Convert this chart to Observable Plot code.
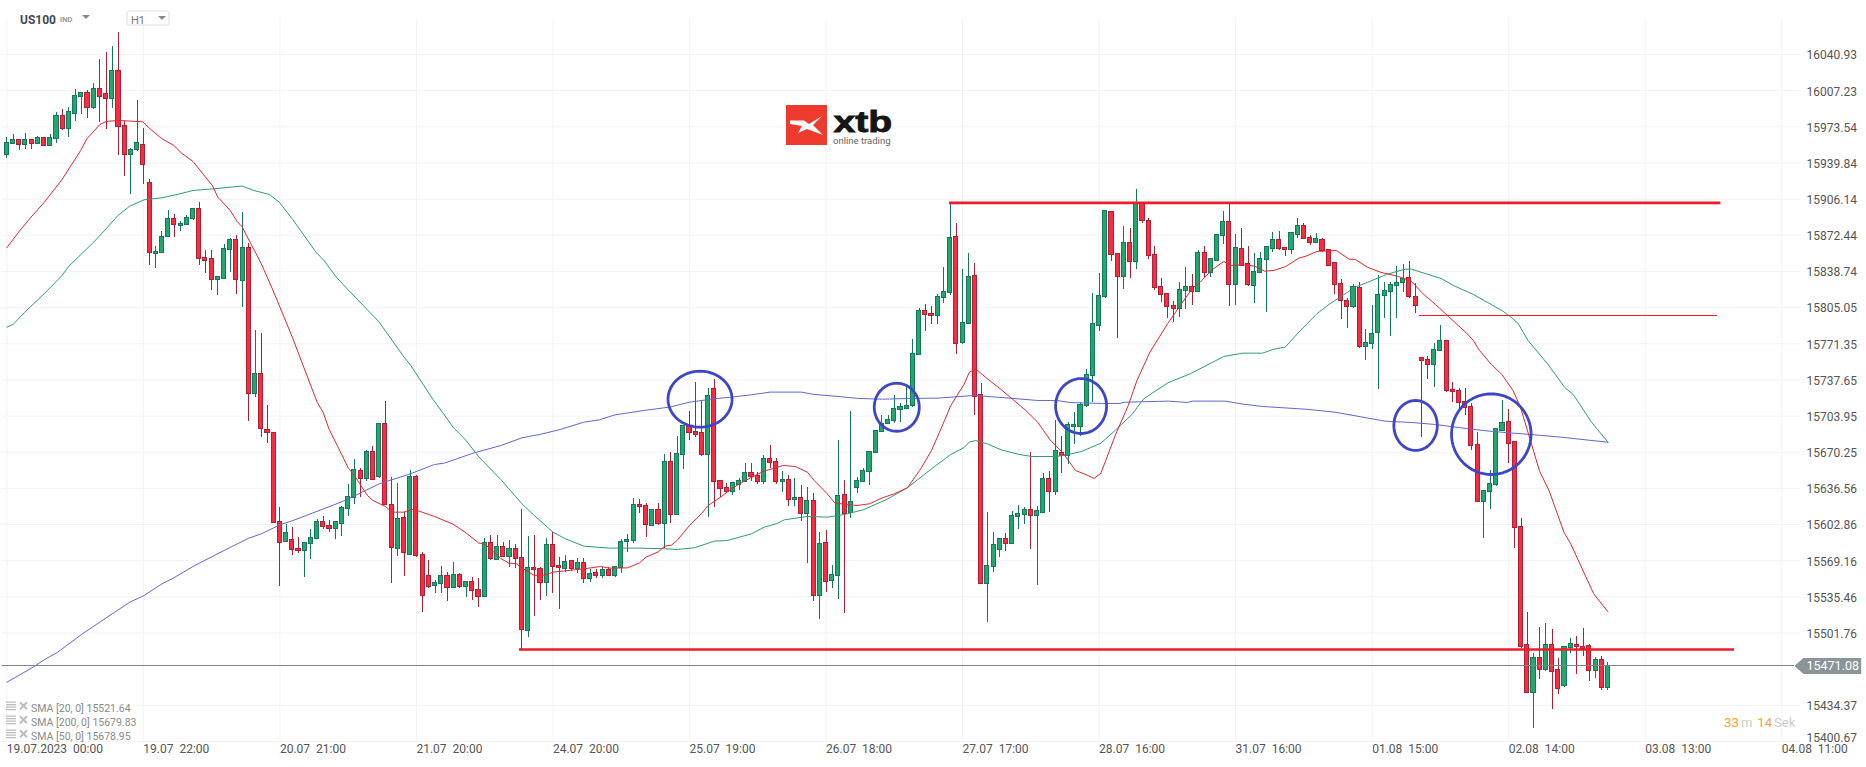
<!DOCTYPE html>
<html>
<head>
<meta charset="utf-8">
<script src="https://cdn.jsdelivr.net/npm/d3@7"></script>
<script src="https://cdn.jsdelivr.net/npm/@observablehq/plot@0.6"></script>
<style>
html,body{margin:0;padding:0;background:#fff}
svg{display:block}
svg text{white-space:pre}
</style>
</head>
<body>
<div id="chart"></div>
<script>
const open = [
15947.1,15957.7,15961.4,15956.8,15961.4,15957.7,15963.3,15955.5,15962.1,15983.8,
15971.7,15985.7,16001.5,16005.2,15991,16009,16004.3,15999.3,16025.7,15974.5,
15947.5,15952.1,15956.8,15921.4,15854.9,15856.1,15871,15887.8,15881.3,15882.2,
15887.8,15897.1,15851.5,15850.5,15831,15831.9,15858.9,15868.2,15830,15860.8,
15724.7,15743.4,15691.1,15688.3,15605.4,15586.7,15588.6,15580.2,15578,15584.9,
15589.5,15605.4,15601.6,15598.9,15603.5,15617.5,15627.8,15652.9,15645.5,15670.6,
15647,15696.7,15621.2,15580.2,15609.1,15574.6,15647.3,15574.6,15554.7,15545.7,
15547.6,15554.7,15543.9,15556,15544.5,15549.5,15542,15535.5,15585.8,15570,
15582.1,15572.8,15580.3,15571.9,15503.8,15562.5,15561.6,15548.6,15584,15564.4,
15561.3,15569.1,15561.3,15567.2,15552.3,15557.9,15555.1,15560.7,15555.1,15562.5,
15586.8,15587.7,15621.3,15620.3,15601.7,15616.6,15603.6,15661.3,15611.9,15667.9,
15694.9,15689.3,15688.4,15667.9,15729.4,15643.6,15637.1,15633.4,15639.9,15642.7,
15651.1,15648.3,15642.7,15664.1,15661.3,15642.7,15644.6,15625.9,15627.8,15612.9,
15625,15536.5,15585.9,15550.4,15555.1,15630.6,15613.8,15637.1,15642.7,15652,
15669.7,15689,15696.7,15699.5,15709.8,15710.7,15713.5,15761.1,15802.1,15799.3,
15797.4,15814.2,15818.5,15871,15772.2,15790,15834.7,15723.8,15547.6,15563.5,
15579.3,15589.6,15584.9,15610.1,15612,15616.6,15611,15613.8,15645.5,15633.4,
15669.7,15667.2,15694,15694,15713.5,15741.5,15788.1,15815.1,15894.3,15855.2,
15833.8,15865.4,15847.7,15902.7,15885.9,15854.3,15824.4,15817.9,15806.7,15803.9,
15820.7,15824.4,15819.8,15856.1,15837.5,15848.7,15872,15885,15826.3,15859.9,
15845.9,15825.4,15837.5,15849.6,15859.9,15868.2,15860.8,15858.9,15872.9,15881.3,
15870.1,15865.4,15868.2,15858.9,15846.8,15827.2,15811.4,15805.8,15823.5,15768.5,
15771.3,15781.6,15816,15819.8,15825.4,15828.2,15832.8,15815.1,15758.3,15756.4,
15751.7,15764.8,15774.1,15728.4,15727.5,15717.3,15712.6,15677.2,15623.7,15633.4,
15639.9,15689.9,15698.6,15680,15600.7,15490.8,15446,15478.7,15467.5,15490.8,
15467.5,15452.2,15488,15490.8,15488.9,15489.8,15466.5,15476.8,15450.7];
const close = [
15958.6,15961.4,15956.5,15961.4,15957.7,15963.3,15955.5,15963.3,15983.8,15971.4,
15987.5,16002.4,16005.2,15991.3,16009,16001.5,15999.3,16025.7,15973.2,15947.5,
15952.1,15958.6,15938.1,15856.1,15857.1,15871,15887.8,15882.2,15883.2,15888.7,
15897.1,15850.5,15848.7,15831,15833.8,15859.9,15868.2,15831,15860.8,15724.7,
15743.4,15692.1,15688.3,15604.4,15585.8,15595.1,15579.3,15578,15585.8,15590.5,
15605.4,15600.4,15598.9,15605.4,15618.4,15628.7,15653.8,15645.5,15670.6,15644.5,
15696.7,15621.2,15581.1,15608.2,15576.5,15647.3,15573.7,15536.4,15544.8,15548.5,
15554.7,15543.9,15556,15544.8,15549.5,15541.1,15535.2,15585.8,15570.6,15582.1,
15572.8,15580.3,15571,15504.8,15562.5,15560.7,15548.6,15584,15563.5,15562.5,
15568.1,15561.3,15567.2,15552.3,15556.9,15555.1,15560.7,15555.1,15563.5,15586.8,
15588.6,15621.3,15619.4,15602.6,15616.6,15603.6,15661.3,15611.9,15668.8,15694.9,
15688.4,15686.5,15667.6,15722.9,15642.7,15636.2,15633.4,15641.8,15643.6,15651.1,
15647.4,15642.7,15664.1,15660.4,15642.7,15644.6,15625.9,15627.8,15612.9,15625,
15536.5,15584.9,15549.5,15556,15629.7,15612.9,15624,15643.6,15653,15670.7,
15690.2,15696.7,15700.5,15710.7,15712.6,15713.5,15762,15802.1,15798.4,15797.4,
15815.1,15819.8,15870.1,15771.3,15790.9,15833.8,15721.9,15547.6,15564.4,15584,
15589.6,15584.9,15611,15612.9,15616.6,15611,15615.7,15645.5,15633.4,15671.6,
15667.2,15695.8,15695.8,15714.5,15742.4,15790,15816,15895.3,15854.3,15833.8,
15865.4,15847.7,15902.7,15885.9,15853.3,15823.5,15817,15805.8,15803.9,15821.6,
15824.4,15819.8,15856.1,15837.5,15850.5,15872.9,15885,15826.3,15860.8,15844,
15826.3,15838.4,15850.5,15861.7,15868.2,15859.9,15858.9,15874.8,15881.3,15869.2,
15865.4,15869.2,15858,15844,15826.3,15811.4,15805.8,15824.4,15768.5,15772.2,
15780.6,15817,15820.7,15826.3,15828.2,15831.9,15815.1,15806.7,15755.5,15751.7,
15765.7,15774.1,15727.5,15726.6,15716.3,15711.7,15676.3,15624,15634.3,15640.8,
15692.1,15697.7,15678.1,15599.8,15488.9,15446,15478.7,15467.5,15490.8,15465.6,
15449.8,15488.9,15491.7,15488.9,15487,15466.5,15476.8,15450.7,15471.2];
const high = [
15963.3,15966.1,15961.4,15967,15961.4,15964.5,15963.3,15966.1,15986.6,15989.4,
15991.3,16008,16005.2,16007.1,16013.6,16036,16042.5,16048.4,16061.2,15978.2,
15953,15997.8,15971.7,15924.2,15861.7,15875.7,15895.3,15891.5,15885,15890.6,
15897.1,15902.7,15858,15858,15833.8,15863.6,15869.2,15872,15893.4,15864.5,
15783.4,15780.6,15713.5,15688.3,15618.4,15602.6,15599.8,15590.5,15585.8,15597.9,
15607.2,15610,15606.3,15605.4,15619.4,15639.9,15663.2,15654.8,15671.5,15675.3,
15696.7,15717.2,15646.4,15640.8,15613.8,15652.9,15648.3,15576.5,15569,15550.4,
15563.4,15557.8,15567.2,15556.9,15549.5,15553.8,15552.3,15589.5,15592.3,15592.3,
15585.9,15587.7,15584,15616.6,15591.4,15592.4,15562.5,15589.6,15595.2,15571.9,
15573.7,15569.1,15570.9,15570.9,15560.7,15560.7,15562.5,15562.5,15563.5,15588.6,
15593.3,15626.9,15625.9,15622.2,15616.6,15622.2,15668.2,15669.7,15685,15694.9,
15707.9,15735,15718.2,15729.4,15737.8,15643.6,15640.8,15641.8,15645.5,15659.5,
15659.5,15651.1,15666.9,15676.6,15664.1,15652,15648.3,15645.5,15639,15637.1,
15631.5,15595.2,15597,15564.4,15681.2,15643.6,15707.9,15646.4,15654.8,15670.7,
15690.2,15704.2,15704.2,15722.9,15715.4,15730.3,15775,15803.9,15807.7,15805.8,
15817,15842.1,15901.8,15883.2,15840.3,15855.2,15845.9,15734,15613.8,15595.2,
15589.6,15594.2,15614.7,15620.3,15618.5,15669.7,15619.4,15650.2,15652,15699.5,
15684.6,15697.7,15707,15716.9,15747.1,15817.9,15836.6,15895.3,15894.3,15855.2,
15880.4,15878.5,15914.8,15902.7,15887.8,15861.7,15831.9,15817.9,15810.5,15828.2,
15842.1,15835.6,15858,15861.7,15850.5,15872.9,15894.3,15901.8,15872.9,15878.5,
15861.7,15855.2,15856.1,15861.7,15874.8,15875.7,15860.8,15874.8,15887.8,15883.2,
15872,15873.8,15869.2,15858.9,15846.8,15831,15813.3,15826.3,15828.2,15784.4,
15806.7,15834.7,15828.2,15828.2,15843.1,15845,15847.7,15827.2,15758.3,15759.2,
15771.3,15788.1,15774.1,15735,15729.4,15729.4,15715.4,15688.4,15634.3,15653.2,
15692.1,15718.5,15709.8,15680,15608.2,15520.6,15482.4,15506.6,15510.3,15504.8,
15477.7,15488.9,15496.4,15498.2,15505.7,15490.8,15478.7,15479.6,15474];
const low = [
15944.3,15957.7,15951.5,15952.7,15952.7,15957.7,15955.5,15955.5,15958,15970.4,
15963.9,15978.8,15985,15981.6,15990,15977.9,15971.4,15991,15947.1,15927.6,
15910.8,15950.9,15920.1,15844.6,15841.8,15856.1,15871,15870.7,15876.3,15882.2,
15886,15844.6,15837.2,15821.3,15816.7,15831.9,15837.5,15817.6,15804.9,15699.2,
15721.5,15684.3,15678.7,15604.4,15545.4,15586.7,15574.3,15576.2,15553.8,15570.6,
15589.5,15597.9,15595.8,15589.2,15592,15610.7,15621.8,15628.4,15643.3,15644.5,
15646.1,15621.2,15548.2,15573.4,15554.7,15573.7,15572.4,15521.2,15542.9,15538.9,
15538.9,15531.4,15542.9,15542.9,15535.2,15532.4,15525.8,15535.5,15569.7,15570,
15572.8,15563.2,15561.6,15486.4,15497.3,15517.5,15532.1,15536.1,15538.3,15524,
15558.5,15559.4,15557.6,15548.3,15549.2,15552.3,15552.3,15555.1,15553.9,15557.6,
15577.1,15584.9,15613.5,15591.1,15601.7,15601.7,15580.3,15603.6,15611,15653.9,
15681.5,15683.7,15666.6,15609.8,15619.1,15627.8,15631.5,15629.7,15634.3,15642.7,
15642.7,15639.9,15639.9,15654.8,15639.9,15632.4,15619.4,15619.4,15605.4,15566.3,
15531.5,15514.1,15539.9,15543,15533.3,15520.3,15608.2,15631.5,15642.7,15639,
15669.7,15689,15696.7,15696.7,15697.7,15709.8,15711.7,15761.1,15783.1,15789.6,
15789.6,15808.6,15816.1,15761.7,15770.4,15789,15704.8,15547.6,15511.9,15558.5,
15572.5,15578.1,15584,15598,15602.6,15579.3,15546.4,15613.8,15614.1,15629.7,
15650.2,15658.5,15677.2,15684.6,15711.7,15716.3,15782.5,15813.3,15847.7,15776,
15821.6,15831.9,15840.3,15883.2,15849.6,15820.7,15809.5,15795.2,15790.9,15796.2,
15803,15806.7,15819.8,15832.8,15832.8,15848.7,15863.6,15805.8,15806.7,15844,
15824.4,15809.2,15837.5,15800.2,15856.1,15858,15852.4,15854.3,15869.2,15869.2,
15862.7,15865.4,15856.1,15843.1,15817,15793.7,15785.3,15803.9,15766.7,15755.5,
15765.7,15728.4,15794.6,15777.8,15794.6,15818.8,15813.3,15799.3,15683.7,15737.8,
15730.3,15764.8,15725.7,15716.3,15710.7,15704.2,15671.6,15624,15590.2,15617.2,
15638.6,15689.9,15659.8,15580.9,15487,15446,15413.1,15458.8,15465.6,15430.8,
15444.8,15450.7,15483,15463.4,15480.2,15456.9,15459.7,15448.5,15447.9];

const sma20Bars = [0,1.9,3.9,6,8.9,11.9,12.9,15,16,17.9,21.9,22.9,25,26.9,28.1,30,33.1,34,36,37.1,37.9,41,42.9,46,50,51,51.9,53.9,55,56,58.1,59,61,62.1,64,65.5,68.9,71.9,74,76,77.1,79.6,80.9,82.1,83,85,86.6,88,93,95.7,97.1,100,101.9,103,105,106,107.1,108,110,112,113,115,117,119,122,125.1,127,129,130.1,132.2,133.4,135.1,137,139,141.1,143,145.1,147.1,149,151.1,152.1,154.2,155.1,156.1,158,160.2,162.1,164.2,166.1,168.1,170.2,172.2,174.2,175.2,176.3,178.6,180.7,182.1,184.2,187.1,189.2,191.1,192.3,194.2,196.1,197.3,199.2,201.1,202.7,204.2,206.1,208.2,209.2,211.1,214.2,216.3,217.3,219.2,221.3,224.2,226.3,228.2,230.2,232.3,235.2,236.3,237.3,239.2,240.9,242.7,243.9,245.5,247,248.5,250.9,252,253.6,255.7,258];
const sma20Values = [15860.8,15875.4,15889.4,15903,15924.5,15951.5,15962.4,15975.7,15978.5,15979.5,15978.2,15972.6,15962.4,15956.2,15949.3,15941.2,15918.9,15908,15895.6,15885.3,15880.4,15845.9,15821,15777.5,15716.9,15707,15692.1,15668.8,15655.7,15648.6,15629.9,15625.3,15619.7,15614.4,15614.4,15617.2,15610.4,15603.2,15595.1,15585.8,15584.3,15571.2,15566.9,15566.3,15562.5,15555.4,15555.7,15558.5,15561.6,15563.8,15562.2,15562.5,15566.9,15572.5,15577.5,15582.7,15583.7,15588,15602,15613.5,15620.6,15628.4,15637.1,15643.9,15652.6,15657.9,15657,15651.7,15643.9,15631.5,15623.1,15621.6,15620.6,15622.2,15627.8,15631.5,15637.1,15653.3,15671.9,15699.9,15713.8,15733.1,15744.9,15748,15738.7,15728.8,15719.4,15709.2,15698.3,15681.8,15669.4,15653.3,15648.6,15645.8,15650.8,15685.9,15713.8,15737.1,15763.6,15790.6,15808,15823.5,15828.8,15840.3,15848,15844.3,15844.9,15843.7,15839,15839.7,15843.4,15851.2,15852.7,15857.4,15858.3,15850.2,15849.9,15842.8,15838.1,15834.1,15829.7,15817.9,15808,15796.8,15781.3,15774.4,15765.1,15752.1,15742.7,15727.8,15712.3,15681.2,15652.3,15634.6,15595.8,15584.9,15564.7,15538.3,15521.5];

const sma50Bars = [0,1,2.9,6,8.9,10,14,16,17.9,19.8,22.1,25,27.9,30,33.4,36,37.9,39.8,42.3,43.9,46.1,49.8,51.1,53.1,55,56.9,60,64,65.1,68.7,70,71.9,74,76,79.6,83,85,88,90,93,97.1,101.9,106,108,110.8,114,116.1,120,122,124,125.3,129,132.2,135,138,142,145.1,149,152.1,154.2,155.1,156.1,158,160.2,163.1,165.2,169.2,171.1,173.2,176.3,178.7,181.3,183.2,187.1,190.7,196.1,199.2,202.3,204.2,206,208.2,211.1,213.2,217.3,219.2,222.3,225.3,226.3,231.1,233.2,236.3,240.9,242.3,243.5,245.1,248.3,251,252.4,255.3,258];
const sma50Values = [15786.8,15789.3,15800.8,15817.9,15835,15843.7,15866.1,15878.5,15890.9,15899.6,15905.5,15907.4,15911.1,15914.2,15915.8,15917.3,15918.3,15914.2,15910.5,15903.3,15886.9,15856.8,15849,15833.4,15821.6,15810.2,15791.5,15758.9,15751.1,15719.1,15709.1,15693.6,15681.2,15666.3,15644.8,15622.2,15611.3,15595.8,15589.6,15582.7,15580.9,15580.9,15580.3,15579.6,15581.2,15587.4,15588,15594.2,15600.4,15603.6,15607.3,15610.4,15609.8,15612.3,15616.6,15626.9,15637.1,15654.8,15668.2,15674.4,15679.7,15681.2,15678.1,15672.5,15668.2,15666.3,15666.3,15668.2,15671,15678.7,15691.2,15705.5,15720.1,15735,15743.4,15759.5,15762.6,15762.6,15766.3,15768.2,15782.2,15799.3,15808.6,15824.1,15828.5,15835.9,15840.9,15840.9,15832.2,15825.4,15817.3,15802.4,15796.5,15790.5,15774.5,15752.4,15730.9,15724,15698.7,15679.6];

const sma200Bars = [0,4.4,6,8.2,10,12.4,16,19.8,22.1,25,26.9,30,35,39,41,44,46.1,52.7,54.7,57.6,60,65,68.9,70.5,75.3,79.6,83,86.1,89,93,95.5,98,102.7,106.8,110,114,116.7,120,123,128,130.1,133.4,137.2,141.1,145.7,150.1,155.9,160.2,166.1,169.2,171.3,176.4,179.2,180.2,187.2,190.2,191.1,196.3,199.2,202.3,209.2,214,222.1,226.3,230.2,235.5,239.4,245.5,250.4,258];
const sma200Values = [15455.9,15470.5,15476.8,15483.9,15491.7,15501.9,15515.9,15530.5,15536.7,15547.6,15553.2,15563.8,15578.7,15590.2,15594.2,15602.6,15606.6,15621.2,15625.9,15634,15640.8,15650.1,15658.8,15660.1,15669.7,15676.5,15683.7,15687.1,15691.2,15698.3,15700.5,15705.1,15709.2,15712.3,15716.9,15720.1,15721.6,15723.8,15726.3,15726.3,15724.1,15722.5,15720.4,15719.7,15720.4,15720.7,15723.2,15721.3,15718.5,15718.5,15716.6,15715.7,15715.7,15716.9,15717.9,15716.6,15717.9,15717.9,15715.1,15712.9,15710.4,15707.6,15699.2,15698,15696.1,15692.1,15689.6,15686.8,15684.3,15679.6];

const priceTicks = [16040.93,16007.23,15973.54,15939.84,15906.14,15872.44,15838.74,15805.05,15771.35,15737.65,15703.95,15670.25,15636.56,15602.86,15569.16,15535.46,15501.76,15434.37];
const lastPriceTick = 15400.67;
const timeTickBars = [0,22,44,66,88,110,132,154,176,198,220,242,264,286];
const timeTickLabels = ["19.07.2023  00:00","19.07  22:00","20.07  21:00","21.07  20:00","24.07  20:00","25.07  19:00","26.07  18:00","27.07  17:00","28.07  16:00","31.07  16:00","01.08  15:00","02.08  14:00","03.08  13:00","04.08  11:00"];

const lastPrice = 15471.08;
const tagBars = [288.05,289.5,298.8,298.8,289.5];
const tagPrices = [lastPrice,lastPrice+7.4,lastPrice+7.4,lastPrice-7.4,lastPrice-7.4];

const levelPrices = [15902.7,15486.4,15797.4];
const levelFrom = [151.9,82.6,227.6];
const levelTo = [276.2,278.4,275.7];
const levelWidths = [2.7,2.7,1];

const circleBars = [111.7,143.4,173.1,227,239.2];
const circlePrices = [15719.7,15712.2,15713.3,15695.2,15687.1];
const circleBarRadii = [5.16,3.63,4.11,3.5,6.41];
const circlePriceRadii = [26.1,22.4,25.6,23.3,37.6];

const legendRows = ["SMA [20, 0] 15521.64","SMA [200, 0] 15679.83","SMA [50, 0] 15678.95"];

const bars = d3.range(open.length);
const rising = bars.filter(i => close[i] >= open[i]);
const falling = bars.filter(i => close[i] < open[i]);

const UP = "#22a76e", UP_EDGE = "#14795a", DOWN = "#f92c42", DOWN_EDGE = "#b21f35";
const GRID = "#f3f3f3";

function candleMarks(set, fill, edge) {
  return [
    Plot.ruleX(set, {x: i => i, y1: i => low[i], y2: i => high[i], stroke: edge, strokeWidth: 1, shapeRendering: "crispEdges"}),
    Plot.rect(set, {x1: i => i - 0.33, x2: i => i + 0.33, y1: i => open[i], y2: i => close[i], fill, stroke: edge, strokeWidth: 1, shapeRendering: "crispEdges"})
  ];
}
function smaMark(xs, ys, stroke) {
  return Plot.line(xs.map((x, k) => ({x, y: ys[k]})), {x: "x", y: "y", stroke, strokeWidth: 1});
}
function circleMark(k) {
  const pts = d3.range(64).map(a => {
    const t = a / 64 * 2 * Math.PI;
    return {x: circleBars[k] + circleBarRadii[k] * Math.cos(t), y: circlePrices[k] + circlePriceRadii[k] * Math.sin(t)};
  });
  return Plot.line(pts, {x: "x", y: "y", stroke: "#3d46c9", strokeWidth: 2.8, curve: "linear-closed"});
}
function chrome() {
  const g = d3.create("svg:g").attr("font-family", "Roboto, sans-serif").attr("text-anchor", "start");
  const t = (x, y, s, size, fill, weight) => g.append("text").attr("x", x).attr("y", y).attr("font-size", size).attr("fill", fill).attr("font-weight", weight || 400).attr("text-anchor", "start").text(s);
  const tri = (x, y, w, h, fill) => g.append("path").attr("d", `M${x},${y}h${w}l${-w/2},${h}z`).attr("fill", fill);
  // header
  t(20, 23.5, "US100", 12, "#3f4b54", 700);
  t(60, 22, "IND", 7.5, "#9a9a9a", 700);
  tri(82, 15, 8, 4, "#8a8a8a");
  g.append("rect").attr("x", 127).attr("y", 11).attr("width", 42).attr("height", 14).attr("rx", 2).attr("fill", "#fff").attr("stroke", "#dddddd");
  t(131, 24, "H1", 11, "#6f7a80");
  tri(158, 16, 8, 4, "#8a8a8a");
  // logo
  g.append("rect").attr("x", 786).attr("y", 105).attr("width", 41).attr("height", 40).attr("fill", "#ef3b2d");
  g.append("path").attr("d", "M790,120.500L804,120.500L809,124L822,116L813,125L823,135L807,129L798,133L802,126L790,124Z").attr("fill", "#fff");
  t(0, 0, "xtb", 29, "#151515", 700).attr("font-family", "Liberation Sans, sans-serif").attr("stroke", "#151515").attr("stroke-width", 0.8).attr("transform", "translate(833.5,131.7) scale(1.35,1)");
  t(833, 144, "online trading", 9.5, "#666");
  // indicator legend
  legendRows.forEach((s, k) => {
    const y = 707.7 + k * 14;
    g.append("path").attr("d", `M6,${y-5.5}h10M6,${y-3}h10M6,${y-0.5}h10M6,${y+2}h10`).attr("stroke", "#bdbdbd").attr("stroke-width", 1.2).attr("fill", "none");
    g.append("path").attr("d", `M20,${y-5.5}l7,7M27,${y-5.5}l-7,7`).attr("stroke", "#bdbdbd").attr("stroke-width", 2).attr("fill", "none");
    t(31, y + 3.8, s, 10.5, "#8a8a8a");
  });
  // countdown
  t(1724, 727, "33", 13.2, "#ffa033");
  t(1741, 727, "m", 13.2, "#cccccc");
  t(1757.300, 727, "14", 13.2, "#ffa033");
  t(1774, 727, "Sek", 13.2, "#cccccc");
  return g.node();
}

const chart = Plot.plot({
  width: 1866,
  height: 767,
  marginTop: 0,
  marginLeft: 0,
  marginRight: 60,
  marginBottom: 26,
  style: {fontFamily: "Roboto, sans-serif", fontSize: "12px", background: "#fff", overflow: "visible"},
  x: {type: "linear", domain: [-1.02, 289.99], label: null},
  y: {domain: [15400.67, 16091.26], label: null},
  marks: [
    Plot.ruleY([...priceTicks, lastPriceTick], {x1: -0.7, x2: 289, stroke: GRID, strokeWidth: 1}),
    Plot.ruleX(timeTickBars, {y1: 15400.67, y2: 16074.5, stroke: GRID, strokeWidth: 1}),
    Plot.axisX({anchor: "bottom", ticks: timeTickBars, tickFormat: d => timeTickLabels[timeTickBars.indexOf(d)], tickSize: 0, tickPadding: 3, textAnchor: "start", color: "#555", fontSize: 12, label: null}),
    Plot.axisY({anchor: "right", ticks: priceTicks, tickFormat: d => d.toFixed(2), tickSize: 0, tickPadding: 0, color: "#555", fontSize: 12, label: null, dy: 1}),
    Plot.text([lastPriceTick], {x: 289.99, y: d => d, text: d => d.toFixed(2), textAnchor: "start", fill: "#555", fontSize: 12, dy: -3}),
    ...candleMarks(rising, UP, UP_EDGE),
    ...candleMarks(falling, DOWN, DOWN_EDGE),
    smaMark(sma200Bars, sma200Values, "#5f68cf"),
    smaMark(sma50Bars, sma50Values, "#2e9a78"),
    smaMark(sma20Bars, sma20Values, "#e3262e"),
    Plot.ruleY([lastPrice], {x1: -0.7, x2: 288.05, stroke: "#78868d", strokeWidth: 1, shapeRendering: "crispEdges"}),
    Plot.line(tagBars.map((x, k) => ({x, y: tagPrices[k]})), {x: "x", y: "y", fill: "#8a9599", stroke: "none", curve: "linear-closed"}),
    Plot.text([lastPrice], {x: 289.99, y: d => d, text: d => d.toFixed(2), textAnchor: "start", fill: "#fff", fontSize: 12.5, dy: 0.5}),
    ...levelPrices.map((p, k) => Plot.ruleY([p], {x1: levelFrom[k], x2: levelTo[k], stroke: "#ee1c2a", strokeWidth: levelWidths[k], shapeRendering: k === 2 ? "crispEdges" : "auto"})),
    ...circleBars.map((_, k) => circleMark(k)),
    chrome
  ]
});
document.getElementById("chart").append(chart);
</script>
</body>
</html>
